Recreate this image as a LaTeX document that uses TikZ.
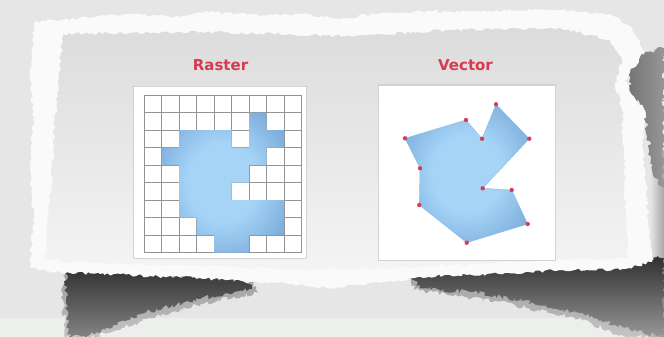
\documentclass[tikz,border=0pt]{standalone}
\usepackage{fontspec}
\setmainfont{DejaVu Sans}
\usetikzlibrary{decorations.pathmorphing}
\definecolor{bggray}{HTML}{E6E6E6}
\definecolor{bgband}{HTML}{EDEFED}
\definecolor{paperwhite}{HTML}{FAFAFA}
\definecolor{innertop}{HTML}{DCDCDC}
\definecolor{innerbot}{HTML}{F4F4F4}
\definecolor{gridline}{HTML}{939393}
\definecolor{bluelight}{HTML}{A6D4F7}
\definecolor{bluemid}{HTML}{8EC0EA}
\definecolor{bluedark}{HTML}{72A4D4}
\definecolor{dotred}{HTML}{D0405A}
\definecolor{labelred}{HTML}{D83A50}
\definecolor{shadowdark}{HTML}{303030}
\definecolor{shadowlight}{HTML}{858585}
\definecolor{panelframe}{HTML}{D2D2D2}
\pgfdeclareradialshading{blueglow}{\pgfpoint{0bp}{0bp}}{color(0bp)=(bluelight); color(14bp)=(bluelight); color(34bp)=(bluedark); color(50bp)=(bluedark)}
\begin{document}
\begin{tikzpicture}[x=1pt,y=-1pt,
  torn/.style={decorate,decoration={random steps,segment length=3pt,amplitude=1.6pt}},
  jag/.style={decorate,decoration={random steps,segment length=2.5pt,amplitude=2.5pt}},
  panel/.style={fill=white,draw=panelframe,line width=1pt},
  gridstyle/.style={draw=gridline,line width=0.8pt},
  label/.style={text=labelred,font=\bfseries\fontsize{15}{18}\selectfont,inner sep=0pt},
  blueshape/.style={shading=blueglow},
  dot/.style={fill=dotred}]
\pgfmathsetseed{7}
\useasboundingbox (0,0) rectangle (664,337);
% background
\fill[bggray] (0,0) rectangle (664,337);
\fill[bgband] (0,318) rectangle (664,337);
\shade[left color=bggray,right color=gray!70] (650,150) rectangle (664,337);
% right shadow
\shade[jag,left color=gray!90!black,right color=gray!80] (628,58) -- (664,48) -- (664,190) -- (652,170) -- (645,110) -- (630,95) -- cycle;
% bottom shadows (soft outer layer, then core)
\shade[jag,opacity=0.4,top color=shadowdark,bottom color=shadowlight] (64,268) -- (150,274) -- (250,280) -- (258,293) -- (205,303) -- (148,319) -- (94,337) -- (66,337) -- (63,300) -- cycle;
\shade[jag,top color=shadowdark,bottom color=shadowlight] (66,268) -- (150,274) -- (245,280) -- (252,289) -- (200,299) -- (140,314) -- (86,337) -- (69,337) -- (66,300) -- cycle;
\shade[jag,opacity=0.4,top color=shadowdark,bottom color=shadowlight] (408,276) -- (500,268) -- (664,258) -- (664,337) -- (625,337) -- (575,318) -- (515,305) -- (460,296) -- (414,290) -- cycle;
\shade[jag,top color=shadowdark,bottom color=shadowlight!85] (412,276) -- (500,268) -- (664,258) -- (664,337) -- (630,330) -- (580,313) -- (520,300) -- (470,292) -- (420,288) -- cycle;
% paper
\fill[paperwhite,torn] (34,22) -- (80,18) -- (130,14) -- (170,17) -- (210,12) -- (260,16) -- (300,14) -- (340,19) -- (380,13) -- (430,11) -- (480,12) -- (530,9) -- (580,12) -- (610,14) -- (632,28) -- (640,45) -- (645,52) -- (633,68) -- (625,80) -- (632,95) -- (645,110) -- (643,150) -- (647,200) -- (650,240) -- (652,262) -- (620,270) -- (560,270) -- (500,274) -- (450,275) -- (415,278) -- (380,283) -- (330,288) -- (290,284) -- (250,282) -- (200,278) -- (150,276) -- (100,274) -- (70,273) -- (30,268) -- (33,220) -- (30,170) -- (33,120) -- (30,70) -- cycle;
\shade[torn,top color=innertop,bottom color=innerbot] (63,34) -- (200,32) -- (350,36) -- (450,30) -- (560,28) -- (610,40) -- (622,60) -- (615,85) -- (622,110) -- (625,200) -- (628,258) -- (500,262) -- (400,268) -- (300,270) -- (200,266) -- (100,263) -- (45,260) -- (50,200) -- (55,120) -- cycle;
% labels
\node[label] (rasterlabel) at (220.5,65.3) {Raster};
\node[label] (vectorlabel) at (465.5,65.3) {Vector};
% raster panel
\draw[panel] (133,86) rectangle (306,258);
\begin{scope}[shift={(144,95)},x=17.5pt,y=-17.5pt]
  \foreach \i in {0,...,9} {
    \draw[gridstyle] (\i,0) -- (\i,9);
    \draw[gridstyle] (0,\i) -- (9,\i);
  }
  \shade[blueshape]
    (6,1) rectangle (7,2)
    (2,2) rectangle (5,3) (6,2) rectangle (8,3)
    (1,3) rectangle (7,4)
    (2,4) rectangle (6,5)
    (2,5) rectangle (5,6)
    (2,6) rectangle (8,7)
    (3,7) rectangle (8,8)
    (4,8) rectangle (6,9);
\end{scope}
% vector panel
\draw[panel] (378,85) rectangle (555,260);
\coordinate (v1) at (496,104.3);
\coordinate (v2) at (466,120);
\coordinate (v3) at (482,138.7);
\coordinate (v4) at (529.3,138.7);
\coordinate (v5) at (482.7,188.3);
\coordinate (v6) at (511.7,190);
\coordinate (v7) at (527.7,224);
\coordinate (v8) at (466.7,242.7);
\coordinate (v9) at (419.3,205);
\coordinate (v10) at (420,168.3);
\coordinate (v11) at (405,138.3);
\shade[blueshape,draw=bluemid,line width=0.4pt]
  (v11) -- (v2) -- (v3) -- (v1) -- (v4) -- (v5) -- (v6) -- (v7) -- (v8) -- (v9) -- (v10) -- cycle;
\foreach \p in {v1,v2,v3,v4,v5,v6,v7,v8,v9,v10,v11} {
  \fill[dot] (\p) circle (2.2pt);
}
\end{tikzpicture}
\end{document}
